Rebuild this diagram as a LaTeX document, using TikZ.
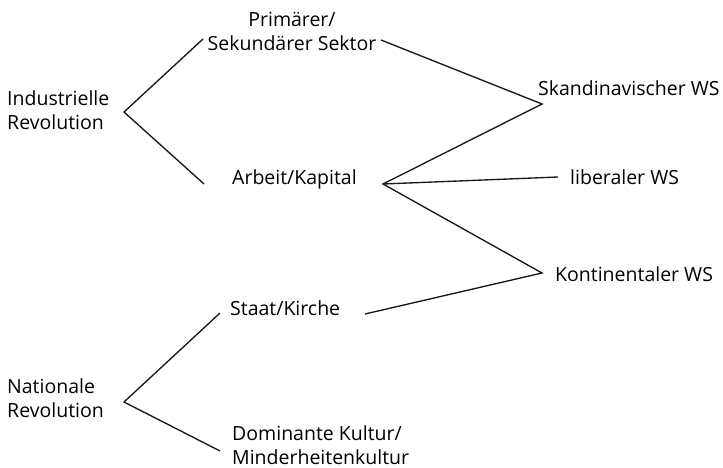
\documentclass[tikz,border=0pt]{standalone}
\usepackage{fontspec}
\setmainfont{Open Sans}
\usetikzlibrary{positioning, calc}

\begin{document}
\begin{tikzpicture}[
  x=1pt, y=-1pt,
  font=\fontsize{19.5}{24}\selectfont,
  term/.style   = {anchor=west, inner sep=2pt, align=left},
  branch/.style = {line width=1.35pt, color=black!90, line join=miter},
]
\useasboundingbox (0,0) rectangle (723,468);

% =============================================================
% Cleavages (left column)
% =============================================================
\node[term] (IR) at (5,110) {Industrielle\\Revolution};
\node[term] (NR) at (5,398) {Nationale\\Revolution};

% --- conflict lines ---
\node[term, align=center, anchor=center] (PS) at (292,31)
  {Prim\"arer/\\Sekund\"arer Sektor};
\node[term] (AK) at (230,179) {Arbeit/Kapital};
\node[term] (SK) at (228,308) {Staat/Kirche};
\node[term] (DK) at (230,445) {Dominante Kultur/\\Minderheitenkultur};

% --- welfare state types ---
\node[term] (SW) at (536,88)  {Skandinavischer WS};
\node[term] (LW) at (568,177) {liberaler WS};
\node[term] (KW) at (553,274) {Kontinentaler WS};

% =============================================================
% Fork points and line ends
% =============================================================
\coordinate (IRv) at (124,112);
\coordinate (NRv) at (124,402);
\coordinate (AKv) at (383,184);
\coordinate (SWv) at (542,104);
\coordinate (KWv) at (542,273);

\coordinate (PSin)  at (203,39);
\coordinate (PSout) at (381,40);
\coordinate (AKin)  at (204,184);
\coordinate (SKin)  at (220,313);
\coordinate (SKout) at (365,314);
\coordinate (DKin)  at (220,451);
\coordinate (LWin)  at (558,177);

% =============================================================
% Branches
% =============================================================
\draw[branch] (PSin) -- (IRv) -- (AKin);
\draw[branch] (SKin) -- (NRv) -- (DKin);
\draw[branch] (PSout) -- (SWv) -- (AKv) -- (KWv) -- (SKout);
\draw[branch] (AKv) -- (LWin);

\end{tikzpicture}
\end{document}
